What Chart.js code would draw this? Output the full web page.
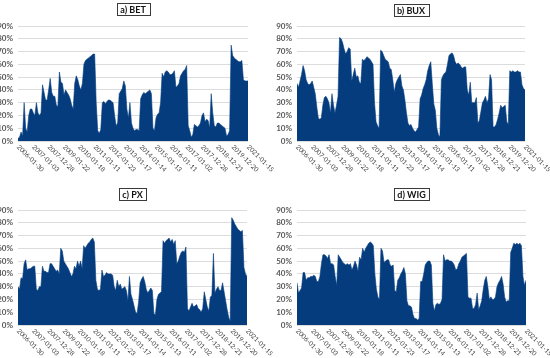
<!DOCTYPE html>
<html><head><meta charset="utf-8">
<script src="https://cdn.jsdelivr.net/npm/chart.js@4.4.1/dist/chart.umd.min.js"></script>
<style>
html,body{margin:0;padding:0;background:#fff;width:550px;height:358px;overflow:hidden}
.p{position:absolute}
canvas{display:block}
</style></head><body>
<div class="p" style="left:0;top:0"><canvas id="cA" width="275" height="178"></canvas></div>
<div class="p" style="left:275px;top:0"><canvas id="cB" width="275" height="178"></canvas></div>
<div class="p" style="left:0;top:178px"><canvas id="cC" width="275" height="180"></canvas></div>
<div class="p" style="left:275px;top:178px"><canvas id="cD" width="275" height="180"></canvas></div>
<script>
const tickDates = ['2006-01-30','2007-01-03','2007-12-28','2009-01-22','2010-01-18','2011-01-11','2012-01-23','2013-01-17','2014-01-14','2015-01-13','2016-01-11','2017-01-02','2017-12-28','2018-12-21','2019-12-20','2021-01-15'];
const titles = ['a) BET','b) BUX','c) PX','d) WIG'];

const bet = [2,3,7,4,30,10,7,20,25,25,
 22,20,30,22,20,22,44,38,32,32,
 40,49,38,35,35,28,27,54,46,45,
 36,40,38,36,33,28,25,45,51,48,
 43,40,45,60,63,64,65,66,67,68,
 68,30,8,6,9,30,31,29,31,32,
 32,31,30,20,12,14,37,39,41,47,
 43,25,18,30,14,10,8,9,9,8,
 33,36,38,37,38,39,40,37,10,8,
 18,21,22,30,53,50,54,55,54,52,
 52,53,55,42,43,45,51,53,55,56,
 59,12,8,3,5,13,12,11,12,14,
 20,22,15,17,16,10,37,22,12,11,
 14,14,13,12,11,10,4,5,8,75,
 67,65,64,63,62,62,63,48,47,47,47];

const bux = [45,42,47,52,59,55,48,45,44,45,
 47,42,37,27,18,17,18,28,34,35,
 33,30,22,37,28,22,28,35,81,80,
 77,72,68,70,73,72,47,52,57,50,
 51,46,45,64,63,64,66,65,64,62,
 60,30,15,12,10,71,70,67,64,63,
 62,57,56,48,38,45,48,50,52,43,
 40,32,22,14,12,13,10,8,7,9,
 11,33,36,41,44,48,55,59,62,45,
 29,24,10,5,3,48,51,53,54,60,
 67,68,69,67,62,60,61,60,58,57,
 58,58,40,36,46,30,30,30,34,14,
 16,23,30,32,35,30,33,52,48,11,
 11,13,17,22,28,26,27,28,15,13,
 55,54,55,54,54,55,54,54,44,41,40];

const px = [30,28,37,36,48,51,43,44,44,45,
 46,46,28,27,30,30,46,42,42,41,
 41,48,48,46,44,42,43,40,60,58,
 50,48,46,44,41,38,40,46,44,50,
 46,50,44,62,60,62,64,65,67,68,
 65,35,28,27,28,43,38,39,41,40,
 40,40,39,30,27,35,30,32,28,29,
 30,27,19,38,24,20,15,10,9,18,
 33,36,38,34,28,25,27,29,27,9,
 8,20,24,25,26,66,64,66,67,68,
 65,67,63,66,48,50,54,57,58,57,
 61,13,11,14,17,14,15,16,13,12,
 10,13,26,20,14,11,22,23,56,25,
 28,30,27,27,33,26,19,12,6,3,
 84,82,79,77,75,74,73,74,45,40,38];

const wig = [33,25,27,29,41,41,35,37,37,38,
 38,39,38,34,34,38,48,55,55,54,
 52,55,48,48,47,38,31,55,53,51,
 49,48,47,48,47,48,43,46,50,47,
 42,53,51,60,57,60,62,64,65,64,
 62,40,28,22,20,60,58,49,50,51,
 51,47,46,47,27,26,35,37,40,42,
 45,40,19,15,15,14,8,5,5,4,
 5,34,34,40,47,49,50,50,47,17,
 11,16,17,16,17,20,55,50,51,51,
 50,50,49,47,43,44,48,50,53,54,
 55,56,22,21,21,13,13,16,25,12,
 15,19,28,35,38,30,20,22,20,20,
 22,30,33,35,38,32,22,18,19,19,
 57,60,64,63,64,63,64,62,38,31,35];

const series = [bet, bux, px, wig];
const FILL = '#043c7e';

const panels = [
  {id:'cA', box:{l:18,r:248,t:26,b:141}, titleY:9},
  {id:'cB', box:{l:22,r:250,t:26,b:141}, titleY:9.5},
  {id:'cC', box:{l:18,r:247,t:32,b:147}, titleY:15.5},
  {id:'cD', box:{l:22,r:251,t:32,b:147}, titleY:15.5}
];

const decor = {
  id:'decor',
  afterDraw(chart, args, o){
    const ctx = chart.ctx, ca = chart.chartArea, xs = chart.scales.x;
    ctx.save();
    ctx.font = 'bold 9px Lato';
    const tw = ctx.measureText(o.title).width;
    const cx = (ca.left + ca.right) / 2;
    const bw = Math.round(tw + 7), bh = 12;
    const bx = Math.round(cx - bw / 2) + 0.5, by = Math.round(o.titleY - bh / 2) + 0.5;
    ctx.fillStyle = '#fff';
    ctx.fillRect(bx, by, bw, bh);
    ctx.strokeStyle = '#3a3a3a'; ctx.lineWidth = 1;
    ctx.strokeRect(bx, by, bw, bh);
    ctx.fillStyle = '#111'; ctx.textAlign = 'center'; ctx.textBaseline = 'middle';
    ctx.fillText(o.title, cx, by + bh / 2 + 0.5);
    ctx.font = '6.5px Lato'; ctx.fillStyle = '#404040';
    ctx.textAlign = 'left'; ctx.textBaseline = 'middle';
    o.labels.forEach((lab, k) => {
      const x = xs.getPixelForValue(k * o.step);
      ctx.save();
      ctx.translate(x, ca.bottom + 5);
      ctx.rotate(Math.PI / 4);
      ctx.fillText(lab, 0, 0);
      ctx.restore();
    });
    ctx.restore();
  }
};

panels.forEach((p, n) => {
  const data = series[n];
  const N = data.length;
  const idx = data.map((_, i) => i);
  const el = document.getElementById(p.id);
  const W = el.width, H = el.height;
  new Chart(el, {
    type: 'line',
    data: {labels: idx, datasets: [{data: data, fill: 'origin', backgroundColor: FILL, borderColor: FILL, borderWidth: 0.6, pointRadius: 0, tension: 0}]},
    options: {
      responsive: false, animation: false, devicePixelRatio: 1,
      layout: {padding: {left: 0, right: W - p.box.r, top: p.box.t, bottom: H - p.box.b}},
      plugins: {
        legend: {display: false}, tooltip: {enabled: false}, title: {display: false},
        decor: {title: titles[n], titleY: p.titleY, labels: tickDates, step: (N - 1) / (tickDates.length - 1)}
      },
      scales: {
        x: {type: 'linear', min: 0, max: N - 1, ticks: {display: false}, grid: {display: false}, border: {display: false}, afterFit(s){ s.height = 0; }},
        y: {min: 0, max: 90, ticks: {stepSize: 10, callback: v => v + '%', font: {size: 8, family: 'Lato', weight: 'bold'}, color: '#595959', padding: 5},
            grid: {color: '#dcdcdc', drawTicks: false}, border: {display: false}, afterFit(s){ s.width = p.box.l; }}
      }
    },
    plugins: [decor]
  });
});
</script>
</body></html>
